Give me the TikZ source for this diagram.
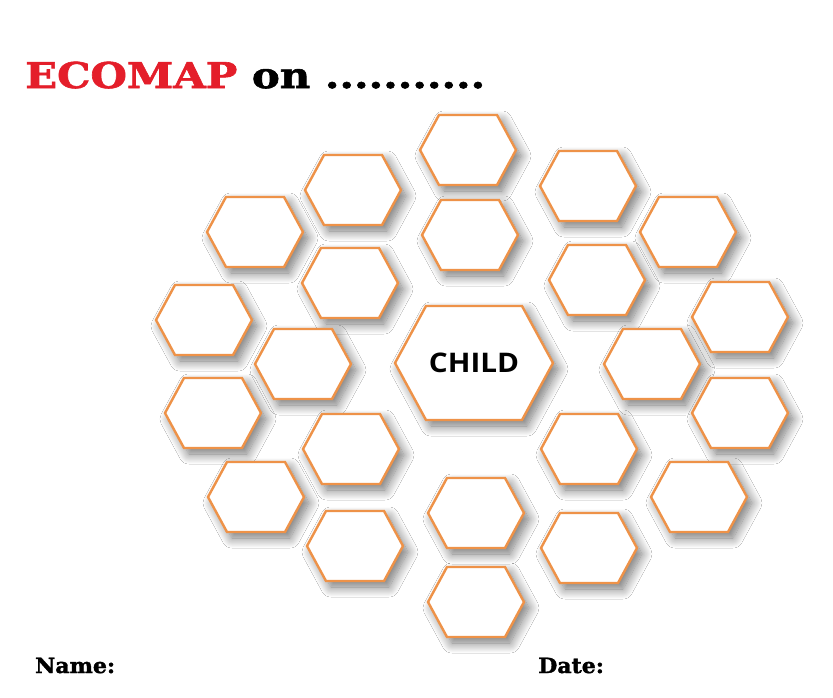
\documentclass[tikz,border=0pt]{standalone}
\usepackage{fontspec}
\usetikzlibrary{shadows.blur}
\newfontfamily\slabfont[BoldFeatures={FakeBold=1.6}]{DejaVu Serif}
\newfontfamily\childfont{Open Sans}
\definecolor{ecored}{RGB}{228,30,42}
\definecolor{hexorange}{RGB}{238,146,72}

\begin{document}
\begin{tikzpicture}[x=1pt, y=-1pt,
    hexline/.style={draw=hexorange, line width=2.4pt, fill=white, line join=miter,
        blur shadow={shadow xshift=5pt, shadow yshift=-6pt, shadow blur radius=10pt,
            shadow blur steps=14, shadow opacity=55}},
    cell/.pic={
        \path[hexline] (-48,0) -- (-29,-35) -- (29,-35) -- (48,0) -- (29,35) -- (-29,35) -- cycle;
        \coordinate (-c) at (0,0);},
    bigcell/.pic={
        \path[hexline] (-79,0) -- (-48,-57) -- (48,-57) -- (79,0) -- (48,57) -- (-48,57) -- cycle;
        \coordinate (-c) at (0,0);}]
    \useasboundingbox[fill=white] (0,0) rectangle (833,697);

    % Title
    \node (title) at (25,88) [anchor=base west, inner sep=0pt, font=\slabfont\bfseries\fontsize{35.5}{40}\selectfont]
        {\scalebox{1.18}[1]{\textcolor{ecored}{ECOMAP} on ...........}};

    % Surrounding cells
    \foreach \x/\y [count=\n] in {468/150, 353/190, 588/186, 255/232, 470/235, 688/232,
            350/283, 597/280, 204/320, 740/317, 303/364, 652/364, 213/413, 740/413,
            351/449, 589/449, 256/497, 699/497, 476/513, 355/546, 589/548, 476/602}
        \pic (cell\n) at (\x,\y) {cell};

    % Centre cell
    \pic (child) at (474,363) {bigcell};
    \node (childlabel) at (child-c) [font=\childfont\bfseries\fontsize{27}{32}\selectfont]
        {\scalebox{1.1}[1]{CHILD}};

    % Footer
    \node (name) at (35,673) [anchor=base west, inner sep=0pt, font=\slabfont\bfseries\fontsize{21}{25}\selectfont]
        {\scalebox{1.05}[1]{Name:}};
    \node (date) at (538,673) [anchor=base west, inner sep=0pt, font=\slabfont\bfseries\fontsize{21}{25}\selectfont]
        {\scalebox{1.05}[1]{Date:}};
\end{tikzpicture}
\end{document}
